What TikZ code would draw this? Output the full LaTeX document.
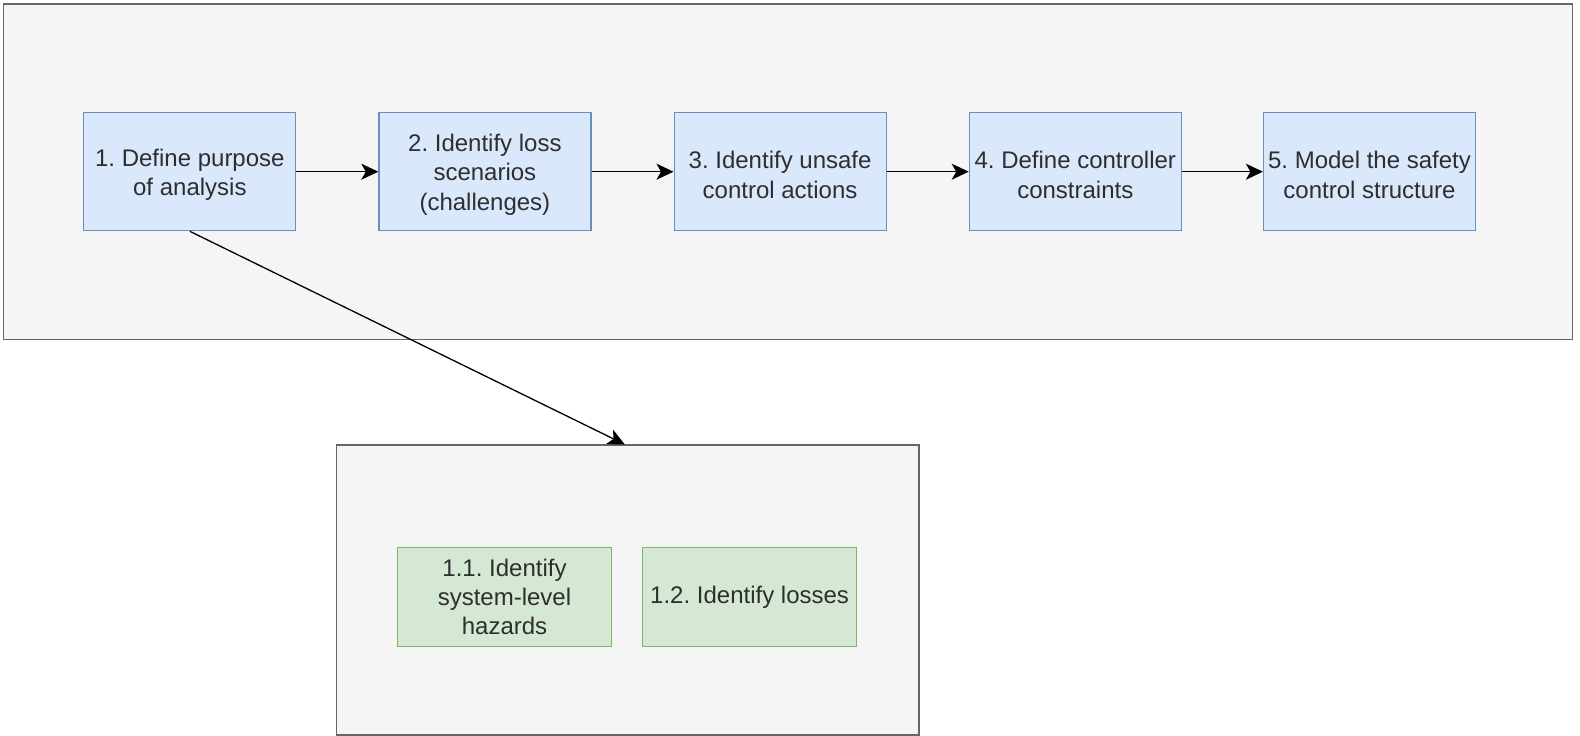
\documentclass[tikz,border=0pt]{standalone}
\usepackage{fontspec}
\setmainfont{Liberation Sans}
\frenchspacing
\usetikzlibrary{arrows.meta}
\definecolor{panelfill}{HTML}{F5F5F5}
\definecolor{paneldraw}{HTML}{666666}
\definecolor{bluefill}{HTML}{DAE8FC}
\definecolor{bluedraw}{HTML}{6C8EBF}
\definecolor{greenfill}{HTML}{D5E8D4}
\definecolor{greendraw}{HTML}{82B366}
\definecolor{textcol}{HTML}{2E2E2E}
% a tall strut on the first line sets a text block a little lower
\newcommand\firstline{\rule{0pt}{23.5pt}}
\tikzset{
  panel/.style={draw=paneldraw, fill=panelfill, line width=1.2pt, inner sep=0pt},
  stepbox/.style={draw=bluedraw, fill=bluefill, line width=1.2pt, inner sep=0pt,
    minimum width=212pt, minimum height=118pt, align=center, text=textcol,
    font=\fontsize{24}{29.5}\selectfont},
  subbox/.style={draw=greendraw, fill=greenfill, line width=1.2pt, inner sep=0pt,
    minimum width=213.5pt, minimum height=99.5pt, align=center, text=textcol,
    font=\fontsize{24}{29}\selectfont},
  flow/.style={line width=1.3pt, -{Stealth[length=17pt,width=16pt,inset=4.5pt]}},
}
\begin{document}
\begin{tikzpicture}[x=1pt,y=-1pt]
\useasboundingbox (0,0) rectangle (1580,736);

% containers
\node[panel, minimum width=1569.2pt, minimum height=335.5pt] (top) at (787.9,171.75) {};
\node[panel, minimum width=582.4pt, minimum height=290pt] (sub) at (627.8,590) {};

% main steps
\node[stepbox] (s1) at (189.85,171.7) {\firstline 1. Define purpose\\of analysis};
\node[stepbox] (s2) at (484.9,171.7) {\firstline 2. Identify loss\\scenarios\\(challenges)};
\node[stepbox] (s3) at (780.1,171.7) {\firstline 3. Identify unsafe\\control actions};
\node[stepbox] (s4) at (1075.3,171.7) {\firstline 4. Define controller\\constraints};
\node[stepbox] (s5) at (1369.5,171.7) {\firstline 5. Model the safety\\control structure};

% sub-steps of step 1
\node[subbox] (s11) at (504.5,597) {1.1. Identify\\system-level\\hazards};
\node[subbox] (s12) at (749.6,597) {1.2. Identify losses};

% connectors
\draw[flow] (s1) -- (s2);
\draw[flow] (s2) -- (s3);
\draw[flow] (s3) -- (s4);
\draw[flow] (s4) -- (s5);
\draw[flow] (s1.south) -- ([xshift=-3pt]sub.north);
\end{tikzpicture}
\end{document}
